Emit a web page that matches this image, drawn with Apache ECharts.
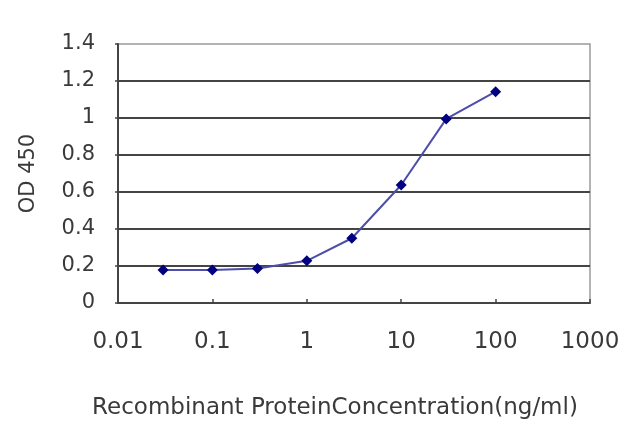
<!DOCTYPE html>
<html>
<head>
<meta charset="utf-8">
<script src="https://cdn.jsdelivr.net/npm/echarts@6/dist/echarts.min.js"></script>
<style>
html,body{margin:0;padding:0;background:#fff;}
#c{width:640px;height:427px;}
</style>
</head>
<body>
<div id="c"></div>
<script>
var concentrations = [0.03, 0.1, 0.3, 1, 3, 10, 30, 100];
var odValues = [0.178, 0.178, 0.187, 0.228, 0.35, 0.638, 0.995, 1.142];
var xTickLabels = ['0.01', '0.1', '1', '10', '100', '1000'];
var yTickLabels = ['0', '0.2', '0.4', '0.6', '0.8', '1', '1.2', '1.4'];
var xTitle = 'Recombinant ProteinConcentration(ng/ml)';
var yTitle = 'OD 450';

var chart = echarts.init(document.getElementById('c'));
var font = 'DejaVu Sans';
chart.setOption({
  animation: false,
  backgroundColor: '#fff',
  grid: {left: 118, right: 50, top: 44, bottom: 124, show: true, borderColor: '#9a9a9a', borderWidth: 1.5, backgroundColor: 'transparent'},
  xAxis: {
    type: 'log', logBase: 10, min: 0.01, max: 1000,
    name: xTitle, nameLocation: 'middle', nameGap: 94,
    nameTextStyle: {fontFamily: font, fontSize: 23, color: '#3a3a3a', padding: [0, 38, 0, 0]},
    axisLine: {show: true, lineStyle: {color: '#444', width: 2}},
    axisTick: {show: true, inside: true, length: 4, lineStyle: {color: '#444', width: 1.5}},
    axisLabel: {fontFamily: font, fontSize: 23, color: '#3a3a3a', margin: 28,
      formatter: function (v, i) { return xTickLabels[i] !== undefined ? xTickLabels[i] : ''; }},
    splitLine: {show: false},
    minorTick: {show: false}
  },
  yAxis: {
    type: 'value', min: 0, max: 1.4, interval: 0.2,
    name: yTitle, nameLocation: 'middle', nameGap: 79,
    nameTextStyle: {fontFamily: font, fontSize: 21, color: '#3a3a3a'},
    axisLine: {show: true, lineStyle: {color: '#444', width: 2}},
    axisTick: {show: true, inside: false, length: 3, lineStyle: {color: '#444', width: 1.5}},
    axisLabel: {fontFamily: font, fontSize: 21, color: '#3a3a3a', margin: 23,
      formatter: function (v, i) { return yTickLabels[i] !== undefined ? yTickLabels[i] : ''; }},
    splitLine: {show: true, showMinLine: false, showMaxLine: false, lineStyle: {color: '#444', width: 2}}
  },
  series: [{
    type: 'line',
    data: concentrations.map(function (c, i) { return [c, odValues[i]]; }),
    symbol: 'diamond', symbolSize: 11,
    itemStyle: {color: '#000080'},
    lineStyle: {color: '#4d4daa', width: 2}
  }]
});
</script>
</body>
</html>
